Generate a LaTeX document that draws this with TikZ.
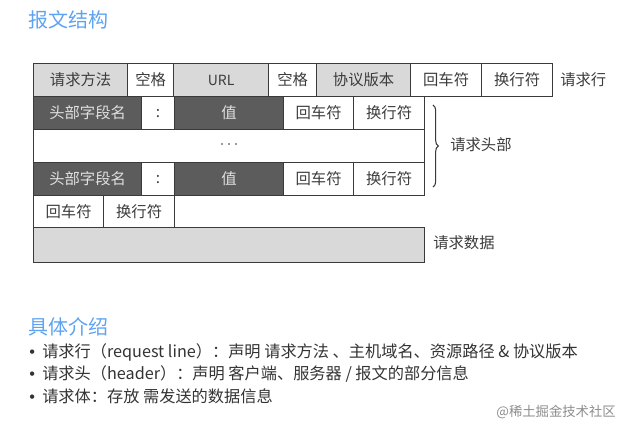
\documentclass[tikz,border=0pt]{standalone}
\usepackage{fontspec}
\setmainfont{Liberation Serif}
\newfontfamily\cjk{Noto Sans CJK SC}
\newfontfamily\latinsans{Liberation Sans}
\usetikzlibrary{decorations.pathreplacing}
\definecolor{titleblue}{HTML}{5EA3F2}
\definecolor{lightcell}{HTML}{D9D9D9}
\definecolor{darkcell}{HTML}{5C5C5C}
\definecolor{cellline}{HTML}{3A3A3A}
\definecolor{celltext}{HTML}{3C3C3C}
\definecolor{bodytext}{HTML}{333333}
\tikzset{
  cellstyle/.style={draw=cellline, line width=0.9pt, inner sep=0pt, fill=white,
    text=celltext, font=\cjk\fontsize{11.5}{12}\selectfont},
  light/.style={fill=lightcell},
  dark/.style={fill=darkcell, text=white!88!black},
  plain/.style={},
  sidelabel/.style={anchor=west, inner sep=0pt, text=celltext, font=\cjk\fontsize{11.5}{12}\selectfont},
  heading/.style={anchor=west, inner sep=0pt, text=titleblue, font=\cjk\fontsize{15}{16}\selectfont},
  bullettext/.style={anchor=west, inner sep=0pt, text=bodytext, font=\cjk\fontsize{12.15}{13}\selectfont},
  bracestyle/.style={draw=cellline, line width=0.8pt, decorate, decoration={brace, amplitude=4pt}},
}
\newcommand\cellat[7]{\node[cellstyle,#6,anchor=north west,minimum width={(#4-#2)*0.75pt},minimum height={(#5-#3)*0.75pt}] (#1) at (#2,#3) {#7};}
\newcommand\bulletmark{{\latinsans •}\hspace{5.5pt}}
\begin{document}
\begin{tikzpicture}[x=0.75pt,y=-0.75pt]
\useasboundingbox (0,0) rectangle (630,433);
% title
\node[heading] (title) at (28,20) {报文结构};
% row 1: request line
\cellat{rm}{33}{63}{127}{96}{light}{请求方法}
\cellat{sp1}{127}{63}{173}{96}{plain}{空格}
\cellat{url}{173}{63}{268}{96}{light}{\fontsize{10.5}{12}\selectfont URL}
\cellat{sp2}{268}{63}{316}{96}{plain}{空格}
\cellat{ver}{316}{63}{410}{96}{light}{协议版本}
\cellat{cra}{410}{63}{481}{96}{plain}{回车符}
\cellat{lfa}{481}{63}{552}{96}{plain}{换行符}
\node[sidelabel] (reqline) at (560,79.5) {请求行};
% row 2: header
\cellat{hna}{33}{96}{141}{129}{dark}{头部字段名}
\cellat{coa}{141}{96}{174}{129}{plain}{:}
\cellat{hva}{174}{96}{283}{129}{dark}{值}
\cellat{crb}{283}{96}{353}{129}{plain}{回车符}
\cellat{lfb}{353}{96}{424}{129}{plain}{换行符}
% row 3: dots
\cellat{dots}{33}{129}{424}{162}{plain}{\raisebox{1pt}{\textbf{$\cdots$}}}
% row 4: header
\cellat{hnb}{33}{162}{141}{195}{dark}{头部字段名}
\cellat{cob}{141}{162}{174}{195}{plain}{:}
\cellat{hvb}{174}{162}{283}{195}{dark}{值}
\cellat{crc}{283}{162}{353}{195}{plain}{回车符}
\cellat{lfc}{353}{162}{424}{195}{plain}{换行符}
% row 5: blank line
\cellat{crd}{33}{195}{103}{227}{plain}{回车符}
\cellat{lfd}{103}{195}{174}{227}{plain}{换行符}
% row 6: body
\cellat{data}{33}{227}{424}{262}{light}{}
% brace and labels
\coordinate (bracetop) at (433,105);
\coordinate (bracebot) at (433,187);
\draw[bracestyle] (bracetop) -- (bracebot);
\node[sidelabel] (reqhead) at (450,145) {请求头部};
\node[sidelabel] (reqdata) at (433,243) {请求数据};
% details
\node[heading] (detail) at (28,327) {具体介绍};
\node[bullettext] (b1) at (29,352) {\bulletmark 请求行（request line）：声明 请求方法 、主机域名、资源路径 \& 协议版本};
\node[bullettext] (b2) at (29,374) {\bulletmark 请求头（header）：声明 客户端、服务器 / 报文的部分信息};
\node[bullettext] (b3) at (29,396) {\bulletmark 请求体：存放 需发送的数据信息};
\node[anchor=east, inner sep=0pt, text=black!45, font=\cjk\fontsize{10}{11}\selectfont] (wm) at (616,412) {@稀土掘金技术社区};
\end{tikzpicture}
\end{document}
